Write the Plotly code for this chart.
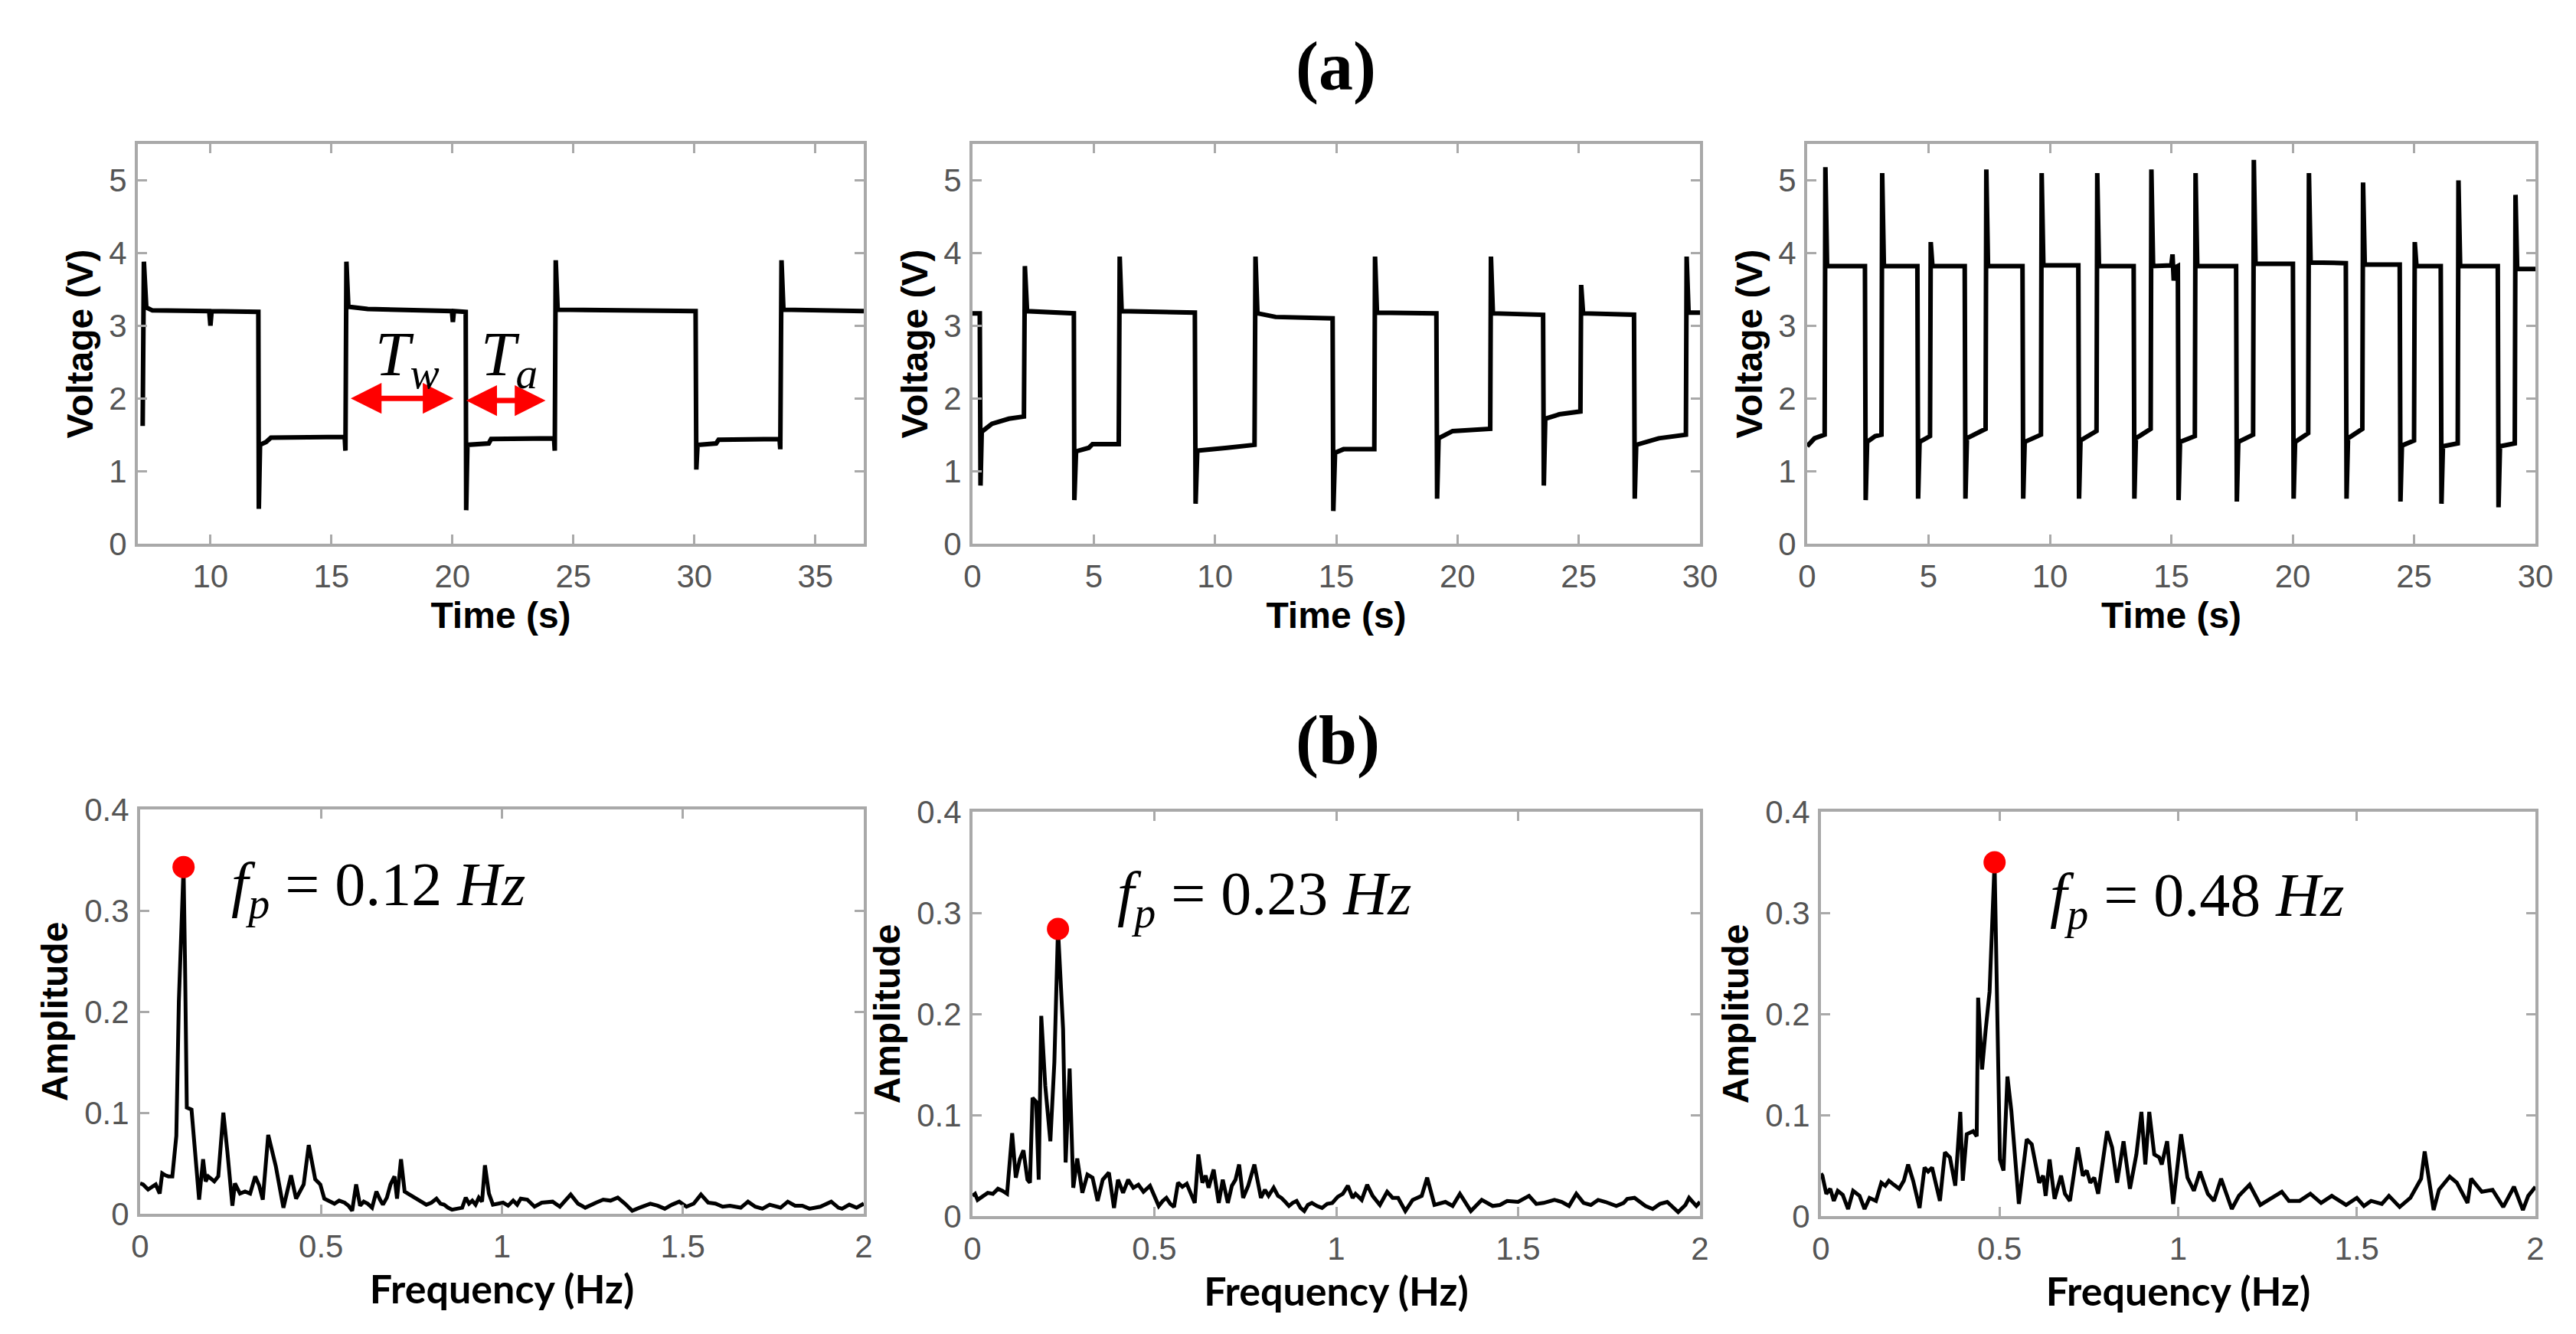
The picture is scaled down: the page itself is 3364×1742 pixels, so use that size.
import plotly.graph_objects as go

# ---------------- data ----------------
# (a) voltage traces: breakpoints (time s, voltage V)
t1 = [7.2, 7.25, 7.35, 7.6, 9.95, 10.0, 10.05, 11.98, 12.0, 12.05, 12.3, 12.5, 15.55, 15.58, 15.62, 15.7,
      16.5, 19.98, 20.02, 20.06, 20.55, 20.57, 20.62, 21.5, 21.6, 24.2, 24.23, 24.27, 24.35, 30.05, 30.08,
      30.13, 30.9, 31.0, 33.52, 33.55, 33.6, 33.68, 37.0]
v1 = [1.62, 3.88, 3.25, 3.21, 3.2, 3.0, 3.2, 3.19, 0.48, 1.36, 1.4, 1.46, 1.47, 1.28, 3.88, 3.26,
      3.23, 3.2, 3.05, 3.2, 3.19, 0.46, 1.36, 1.38, 1.44, 1.45, 1.28, 3.9, 3.22, 3.2, 1.02,
      1.36, 1.38, 1.43, 1.44, 1.3, 3.9, 3.22, 3.2]

t2 = [0.0, 0.3, 0.33, 0.38, 0.8, 1.5, 2.12, 2.16, 2.25, 4.18, 4.2, 4.27, 4.8, 4.95, 6.03, 6.07, 6.15,
      9.17, 9.2, 9.27, 10.5, 11.63, 11.67, 11.75, 12.5, 14.85, 14.88, 14.95, 15.3, 16.57, 16.6, 16.68,
      19.13, 19.16, 19.22, 19.8, 21.35, 21.38, 21.46, 23.53, 23.56, 23.62, 24.2, 25.07, 25.1, 25.18,
      27.28, 27.31, 27.37, 28.3, 29.42, 29.45, 29.53, 30.0]
v2 = [3.17, 3.17, 0.8, 1.54, 1.65, 1.72, 1.75, 3.82, 3.2, 3.17, 0.6, 1.27, 1.32, 1.37, 1.37, 3.95, 3.2,
      3.18, 0.55, 1.28, 1.32, 1.36, 3.95, 3.17, 3.12, 3.1, 0.45, 1.25, 1.3, 1.3, 3.95, 3.18,
      3.17, 0.62, 1.45, 1.55, 1.58, 3.95, 3.17, 3.15, 0.8, 1.72, 1.78, 1.82, 3.56, 3.17,
      3.15, 0.62, 1.36, 1.45, 1.5, 3.95, 3.18, 3.18]

t3 = [0.0, 0.3, 0.72, 0.75, 0.82, 2.38, 2.41, 2.47, 2.8, 3.06, 3.09, 3.16, 4.54, 4.57, 4.63, 5.06, 5.09,
      5.16, 6.49, 6.52, 6.58, 7.35, 7.38, 7.45, 8.87, 8.9, 8.96, 9.63, 9.66, 9.73, 11.17, 11.2, 11.26,
      11.92, 11.95, 12.02, 13.45, 13.48, 13.54, 14.15, 14.18, 14.25, 15.0, 15.05, 15.1, 15.15, 15.27,
      15.3, 15.36, 15.97, 16.0, 16.07, 17.67, 17.7, 17.76, 18.37, 18.4, 18.47, 20.01, 20.04, 20.1, 20.64,
      20.67, 20.74, 22.19, 22.22, 22.28, 22.87, 22.9, 22.97, 24.41, 24.44, 24.5, 25.0, 25.03, 25.1,
      26.1, 26.13, 26.19, 26.8, 26.83, 26.9, 28.45, 28.48, 28.54, 29.15, 29.18, 29.25, 30.0]
v3 = [1.34, 1.45, 1.5, 5.18, 3.82, 3.82, 0.6, 1.4, 1.48, 1.5, 5.1, 3.82, 3.82, 0.62, 1.4, 1.48, 4.15,
      3.82, 3.82, 0.62, 1.45, 1.58, 5.15, 3.82, 3.82, 0.62, 1.4, 1.5, 5.1, 3.83, 3.83, 0.62, 1.42,
      1.55, 5.1, 3.82, 3.82, 0.62, 1.45, 1.58, 5.15, 3.82, 3.83, 3.98, 3.62, 3.8, 3.82,
      0.6, 1.4, 1.48, 5.1, 3.82, 3.82, 0.58, 1.4, 1.5, 5.28, 3.85, 3.85, 0.62, 1.4, 1.52,
      5.1, 3.87, 3.86, 0.62, 1.45, 1.58, 4.97, 3.84, 3.84, 0.58, 1.35, 1.42, 4.15, 3.82,
      3.82, 0.55, 1.34, 1.38, 5.0, 3.82, 3.82, 0.5, 1.34, 1.38, 4.8, 3.78, 3.78]

# (b) amplitude spectra (frequency Hz, amplitude)
f4 = [0.0, 0.008, 0.022, 0.035, 0.043, 0.054, 0.061, 0.070, 0.078, 0.089, 0.100, 0.107, 0.120, 0.124,
      0.129, 0.142, 0.163, 0.174, 0.181, 0.188, 0.205, 0.216, 0.230, 0.241, 0.255, 0.262, 0.276, 0.290,
      0.304, 0.318, 0.329, 0.339, 0.354, 0.375, 0.396, 0.417, 0.431, 0.452, 0.466, 0.484, 0.498, 0.509,
      0.523, 0.537, 0.550, 0.565, 0.576, 0.586, 0.597, 0.608, 0.618, 0.629, 0.641, 0.653, 0.663, 0.671,
      0.682, 0.692, 0.703, 0.710, 0.721, 0.731, 0.740, 0.749, 0.763, 0.777, 0.791, 0.805, 0.819, 0.830,
      0.840, 0.851, 0.862, 0.876, 0.890, 0.900, 0.909, 0.918, 0.927, 0.936, 0.945, 0.953, 0.964, 0.975,
      0.990, 1.003, 1.017, 1.031, 1.042, 1.052, 1.07, 1.09, 1.11, 1.14, 1.16, 1.19, 1.21, 1.23, 1.26,
      1.28, 1.30, 1.32, 1.34, 1.36, 1.38, 1.41, 1.43, 1.45, 1.47, 1.49, 1.51, 1.53, 1.55, 1.57, 1.59,
      1.61, 1.63, 1.66, 1.68, 1.70, 1.72, 1.74, 1.77, 1.79, 1.81, 1.83, 1.85, 1.88, 1.91, 1.93, 1.94,
      1.96, 1.98, 2.00]
a4 = [0.030, 0.029, 0.024, 0.027, 0.029, 0.020, 0.040, 0.038, 0.037, 0.037, 0.077, 0.210, 0.343, 0.250,
      0.105, 0.103, 0.014, 0.054, 0.032, 0.037, 0.032, 0.037, 0.100, 0.062, 0.008, 0.030, 0.020, 0.022,
      0.020, 0.037, 0.028, 0.014, 0.078, 0.047, 0.006, 0.038, 0.015, 0.029, 0.068, 0.034, 0.029, 0.015,
      0.012, 0.010, 0.013, 0.011, 0.008, 0.003, 0.029, 0.008, 0.012, 0.010, 0.006, 0.022, 0.014, 0.009,
      0.016, 0.029, 0.037, 0.015, 0.054, 0.022, 0.020, 0.018, 0.015, 0.012, 0.009, 0.011, 0.015, 0.010,
      0.009, 0.006, 0.004, 0.005, 0.006, 0.016, 0.010, 0.013, 0.009, 0.016, 0.012, 0.048, 0.020, 0.009,
      0.010, 0.011, 0.008, 0.013, 0.009, 0.015, 0.014, 0.007, 0.011, 0.012, 0.007, 0.019, 0.010, 0.006, 0.011,
      0.014, 0.013, 0.016, 0.010, 0.003, 0.006, 0.010, 0.008, 0.005, 0.009, 0.012, 0.007, 0.010, 0.019, 0.011, 0.010,
      0.007, 0.008, 0.006, 0.012, 0.007, 0.005, 0.009, 0.006, 0.012, 0.008, 0.008, 0.005, 0.007, 0.012, 0.006, 0.005,
      0.009, 0.006, 0.010]

f5 = [0.0, 0.007, 0.014, 0.021, 0.032, 0.042, 0.056, 0.070, 0.082, 0.095, 0.109, 0.119, 0.130, 0.140,
      0.151, 0.158, 0.165, 0.175, 0.182, 0.189, 0.200, 0.214, 0.225, 0.235, 0.249, 0.256, 0.267, 0.277,
      0.288, 0.302, 0.316, 0.330, 0.344, 0.358, 0.375, 0.389, 0.400, 0.414, 0.428, 0.442, 0.456, 0.470,
      0.488, 0.500, 0.512, 0.523, 0.533, 0.544, 0.554, 0.565, 0.577, 0.589, 0.600, 0.611, 0.621, 0.632,
      0.641, 0.649, 0.663, 0.677, 0.688, 0.702, 0.713, 0.723, 0.733, 0.744, 0.758, 0.775, 0.793, 0.804,
      0.814, 0.828, 0.840, 0.849, 0.860, 0.870, 0.880, 0.891, 0.902, 0.912, 0.922, 0.933, 0.947, 0.961,
      0.975, 0.989, 1.004, 1.018, 1.032, 1.045, 1.053, 1.07, 1.085, 1.10, 1.12, 1.14, 1.155, 1.17, 1.19,
      1.21, 1.235, 1.25, 1.27, 1.30, 1.32, 1.34, 1.37, 1.39, 1.40, 1.43, 1.45, 1.47, 1.50, 1.53, 1.55,
      1.57, 1.60, 1.62, 1.64, 1.66, 1.68, 1.70, 1.72, 1.74, 1.77, 1.79, 1.80, 1.82, 1.85, 1.87, 1.89,
      1.91, 1.93, 1.94, 1.96, 1.97, 1.99, 2.00]
a5 = [0.020, 0.022, 0.016, 0.018, 0.021, 0.023, 0.022, 0.027, 0.025, 0.022, 0.082, 0.038, 0.056, 0.065,
      0.036, 0.033, 0.117, 0.113, 0.036, 0.198, 0.129, 0.074, 0.152, 0.284, 0.185, 0.053, 0.146, 0.028,
      0.057, 0.023, 0.041, 0.038, 0.015, 0.036, 0.043, 0.008, 0.036, 0.023, 0.036, 0.028, 0.031, 0.024,
      0.030, 0.020, 0.010, 0.015, 0.018, 0.012, 0.009, 0.033, 0.029, 0.032, 0.022, 0.013, 0.061, 0.033,
      0.040, 0.028, 0.046, 0.013, 0.036, 0.013, 0.030, 0.036, 0.051, 0.018, 0.030, 0.051, 0.018, 0.026,
      0.020, 0.028, 0.020, 0.018, 0.014, 0.010, 0.013, 0.015, 0.008, 0.005, 0.011, 0.013, 0.010, 0.008,
      0.012, 0.013, 0.019, 0.022, 0.030, 0.018, 0.022, 0.016, 0.031, 0.020, 0.011, 0.024, 0.018, 0.018, 0.005,
      0.016, 0.020, 0.038, 0.011, 0.014, 0.010, 0.022, 0.005, 0.012, 0.016, 0.010, 0.011, 0.015, 0.014, 0.020, 0.012,
      0.013, 0.016, 0.014, 0.010, 0.022, 0.013, 0.011, 0.016, 0.014, 0.010, 0.013, 0.017, 0.018, 0.010, 0.007, 0.012,
      0.014, 0.008, 0.004, 0.011, 0.018, 0.010, 0.014]

f6 = [0.0, 0.004, 0.015, 0.026, 0.036, 0.047, 0.061, 0.076, 0.090, 0.108, 0.122, 0.136, 0.154, 0.169,
      0.180, 0.190, 0.204, 0.219, 0.232, 0.244, 0.258, 0.276, 0.290, 0.300, 0.311, 0.333, 0.347, 0.361,
      0.376, 0.390, 0.397, 0.408, 0.426, 0.436, 0.440, 0.451, 0.461, 0.472, 0.486, 0.501, 0.511, 0.522,
      0.533, 0.554, 0.576, 0.590, 0.611, 0.622, 0.629, 0.640, 0.654, 0.672, 0.683, 0.697, 0.719, 0.733,
      0.744, 0.754, 0.765, 0.776, 0.801, 0.815, 0.829, 0.847, 0.865, 0.883, 0.897, 0.908, 0.919, 0.933,
      0.947, 0.954, 0.969, 0.986, 1.008, 1.026, 1.044, 1.061, 1.083, 1.10, 1.12, 1.15, 1.17, 1.20, 1.23,
      1.26, 1.29, 1.31, 1.34, 1.37, 1.40, 1.43, 1.47, 1.50, 1.52, 1.54, 1.57, 1.59, 1.62, 1.65, 1.68,
      1.69, 1.715, 1.73, 1.76, 1.78, 1.81, 1.82, 1.85, 1.88, 1.91, 1.94, 1.965, 1.98, 2.00]
a6 = [0.042, 0.040, 0.022, 0.027, 0.015, 0.025, 0.021, 0.007, 0.025, 0.020, 0.007, 0.018, 0.015, 0.033,
      0.030, 0.035, 0.031, 0.027, 0.035, 0.051, 0.035, 0.008, 0.048, 0.044, 0.048, 0.015, 0.063, 0.058,
      0.030, 0.103, 0.035, 0.081, 0.084, 0.079, 0.216, 0.145, 0.184, 0.222, 0.350, 0.056, 0.045, 0.138,
      0.104, 0.012, 0.076, 0.071, 0.033, 0.040, 0.020, 0.056, 0.017, 0.040, 0.022, 0.015, 0.068, 0.040,
      0.045, 0.033, 0.038, 0.022, 0.084, 0.068, 0.033, 0.074, 0.027, 0.061, 0.103, 0.051, 0.103, 0.061,
      0.058, 0.051, 0.074, 0.012, 0.081, 0.038, 0.025, 0.044, 0.022, 0.015, 0.037, 0.007, 0.020, 0.031, 0.011,
      0.017, 0.024, 0.015, 0.015, 0.022, 0.013, 0.020, 0.011, 0.018, 0.010, 0.015, 0.012, 0.020, 0.009, 0.018, 0.037,
      0.064, 0.006, 0.026, 0.039, 0.033, 0.013, 0.037, 0.024, 0.026, 0.009, 0.029, 0.006, 0.020, 0.029]

peak_f = [0.12, 0.235, 0.486]
peak_a = [0.343, 0.284, 0.350]
peak_labels = ["0.12", "0.23", "0.48"]

# ---------------- layout helpers ----------------
# the page body adds an 8 px margin, so the figure is 8 px smaller and
# all page-pixel positions are shifted by that offset
PAGE_W, PAGE_H, OFF = 3364, 1742, 8
W, H = PAGE_W - OFF, PAGE_H - OFF


def fx(p):
    return (p - OFF) / W


def fy(p):
    return 1 - (p - OFF) / H


# page-pixel boxes of the six axes: (left, right, top, bottom)
boxes = [
    (180, 1128, 188, 710),
    (1270, 2220, 188, 710),
    (2360, 3311, 188, 710),
    (183, 1128, 1057, 1585),
    (1270, 2220, 1060, 1588),
    (2378, 3311, 1060, 1588),
]

AX_COL = "#a9a9a9"
TICK_FONT = dict(family="Liberation Sans Narrow, Liberation Sans, Arial", size=42, color="#555555")
TITLE_FONT = dict(family="Liberation Sans, Arial", size=48, color="#000000")
FREQ_FONT = dict(family="Lato, Liberation Sans, Arial", size=52, color="#000000")
SERIF = "Liberation Serif, Times New Roman, serif"

fig = go.Figure()

volt = [(t1, v1), (t2, v2), (t3, v3)]
for i, (t, v) in enumerate(volt):
    fig.add_trace(go.Scatter(x=t, y=v, mode="lines", line=dict(color="black", width=6),
                             xaxis=f"x{i + 1}" if i else "x", yaxis=f"y{i + 1}" if i else "y",
                             showlegend=False, hoverinfo="skip"))

spec = [(f4, a4), (f5, a5), (f6, a6)]
for i, (f, a) in enumerate(spec):
    k = i + 4
    fig.add_trace(go.Scatter(x=f, y=a, mode="lines", line=dict(color="black", width=5),
                             xaxis=f"x{k}", yaxis=f"y{k}", showlegend=False, hoverinfo="skip"))
    fig.add_trace(go.Scatter(x=[peak_f[i]], y=[peak_a[i]], mode="markers",
                             marker=dict(color="#ff0000", size=29),
                             xaxis=f"x{k}", yaxis=f"y{k}", showlegend=False, hoverinfo="skip"))

common = dict(showline=True, linecolor=AX_COL, linewidth=4, mirror="ticks", ticks="inside",
              ticklen=12, tickwidth=3, tickcolor=AX_COL, showgrid=False, zeroline=False,
              tickfont=TICK_FONT, automargin=False)

layout = dict(width=W, height=H, margin=dict(l=0, r=0, t=0, b=0, autoexpand=False),
              paper_bgcolor="white", plot_bgcolor="white", showlegend=False)

xranges = [[7, 37], [0, 30], [0, 30], [0, 2], [0, 2], [0, 2]]
xticks = [[10, 15, 20, 25, 30, 35], [0, 5, 10, 15, 20, 25, 30], [0, 5, 10, 15, 20, 25, 30],
          [0, 0.5, 1, 1.5, 2], [0, 0.5, 1, 1.5, 2], [0, 0.5, 1, 1.5, 2]]
for i, (l, r, t, b) in enumerate(boxes):
    n = "" if i == 0 else str(i + 1)
    top = i < 3
    layout[f"xaxis{n}"] = dict(common, domain=[fx(l), fx(r)], anchor=f"y{n}", range=xranges[i],
                               tickvals=xticks[i], ticklabelstandoff=3,
                               title=dict(text="<b>Time (s)</b>" if top else "<b>Frequency (Hz)</b>",
                                          standoff=12, font=TITLE_FONT if top else FREQ_FONT))
    layout[f"yaxis{n}"] = dict(common, domain=[fy(b), fy(t)], anchor=f"x{n}",
                               range=[0, 5.5] if top else [0, 0.4],
                               tickvals=[0, 1, 2, 3, 4, 5] if top else [0, 0.1, 0.2, 0.3, 0.4],
                               ticklabelstandoff=2,
                               title=dict(text="<b>Voltage (V)</b>" if top else "<b>Amplitude</b>",
                                          standoff=6 if top else 7, font=TITLE_FONT))

annotations = [
    dict(text="<b>(a)</b>", x=fx(1745), y=fy(87), xref="paper", yref="paper", showarrow=False,
         font=dict(family=SERIF, size=90, color="black"), xanchor="center", yanchor="middle"),
    dict(text="<b>(b)</b>", x=fx(1747), y=fy(967), xref="paper", yref="paper", showarrow=False,
         font=dict(family=SERIF, size=90, color="black"), xanchor="center", yanchor="middle"),
]
# Tw / Ta double arrows
for (xs, xe, yv) in [(15.75, 20.05, 2.0), (20.52, 23.85, 1.97)]:
    annotations.append(dict(x=xe, y=yv, ax=xs, ay=yv, xref="x", yref="y", axref="x", ayref="y",
                            text="", showarrow=True, arrowhead=2, startarrowhead=2,
                            arrowside="end+start", arrowsize=1.15, startarrowsize=1.15,
                            arrowwidth=7, arrowcolor="#ff0000"))
annotations.append(dict(text="<i>T</i><sub><i>w</i></sub>", x=16.75, y=2.55, xref="x", yref="y",
                        showarrow=False, xanchor="left", yanchor="middle",
                        font=dict(family=SERIF, size=82, color="black")))
annotations.append(dict(text="<i>T</i><sub><i>a</i></sub>", x=21.1, y=2.55, xref="x", yref="y",
                        showarrow=False, xanchor="left", yanchor="middle",
                        font=dict(family=SERIF, size=82, color="black")))
# f_p labels
fp_pos = [(0.248, 0.321), (0.394, 0.3145), (0.637, 0.313)]
for i, (xp, yp) in enumerate(fp_pos):
    k = i + 4
    annotations.append(dict(text=f"<i>f</i><sub><i>p</i></sub>&nbsp;=&nbsp;{peak_labels[i]}&nbsp;<i>Hz</i>",
                            x=xp, y=yp, xref=f"x{k}", yref=f"y{k}", showarrow=False,
                            xanchor="left", yanchor="middle",
                            font=dict(family=SERIF, size=80, color="black")))
layout["annotations"] = annotations

fig.update_layout(**layout)
fig.write_html("out.html")
